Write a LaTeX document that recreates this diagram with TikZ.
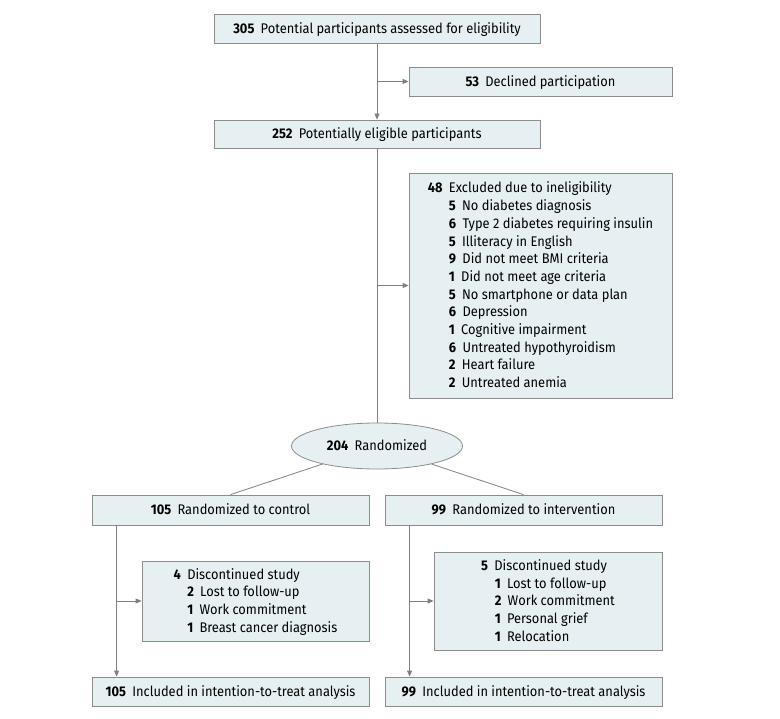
\documentclass[tikz,border=0pt]{standalone}
\usepackage{fontspec}
\setmainfont[FakeStretch=0.92]{Fira Sans}
\usetikzlibrary{arrows.meta,shapes.geometric,calc}
\definecolor{boxfill}{RGB}{230,240,242}
\definecolor{boxline}{RGB}{140,140,140}
\definecolor{conn}{RGB}{128,128,128}
\newcommand{\nm}[1]{\textbf{#1}\hspace{0.45em}}
\newcommand{\ind}{\hphantom{\textbf{48}}\hspace{0.45em}}
\newcommand{\indone}{\hphantom{\textbf{4}}\hspace{0.45em}}
\newcommand{\topstrut}{\rule{0pt}{13.6pt}}
\newcommand{\botstrut}{\rule[-4pt]{0pt}{4pt}}
\begin{document}
\begin{tikzpicture}[x=1pt,y=-1pt,
  font=\fontsize{14}{17.7}\selectfont,
  box/.style={draw=boxline,fill=boxfill,line width=0.8pt,inner sep=0pt,anchor=center},
  single/.style={box,text height=9.6pt,text depth=0pt},
  multi/.style={box,align=left},
  conline/.style={draw=conn,line width=0.8pt},
  arr/.style={conline,-{Triangle[length=6pt,width=5pt]}}]
\useasboundingbox (0,0) rectangle (780,719);
\node[single,minimum width=326,minimum height=29] (b1) at (377,29) {\nm{305}Potential participants assessed for eligibility};
\node[single,minimum width=263,minimum height=29] (dec) at (540.5,81.5) {\nm{53}Declined participation};
\node[single,minimum width=326,minimum height=28] (b2) at (377,134) {\nm{252}Potentially eligible participants};
\node[multi,minimum width=263,minimum height=225] (exc) at (540.5,285.5) {\topstrut\nm{48}Excluded due to ineligibility\\
\ind\nm{5}No diabetes diagnosis\\
\ind\nm{6}Type 2 diabetes requiring insulin\\
\ind\nm{5}Illiteracy in English\\
\ind\nm{9}Did not meet BMI criteria\\
\ind\nm{1}Did not meet age criteria\\
\ind\nm{5}No smartphone or data plan\\
\ind\nm{6}Depression\\
\ind\nm{1}Cognitive impairment\\
\ind\nm{6}Untreated hypothyroidism\\
\ind\nm{2}Heart failure\\
\ind\nm{2}Untreated anemia\botstrut};
\node[single,ellipse,minimum width=171,minimum height=46] (ell) at (377,446) {\nm{204}Randomized};
\node[single,minimum width=277,minimum height=30] (ctrl) at (230.5,510) {\nm{105}Randomized to control};
\node[single,minimum width=277,minimum height=30] (intv) at (523.5,510) {\nm{99}Randomized to intervention};
\node[multi,minimum width=227,minimum height=80] (dl) at (255.5,601) {\topstrut\nm{4}Discontinued study\\
\indone\nm{2}Lost to follow-up\\
\indone\nm{1}Work commitment\\
\indone\nm{1}Breast cancer diagnosis\botstrut};
\node[multi,minimum width=228,minimum height=98] (dr) at (548,601) {\topstrut\nm{5}Discontinued study\\
\indone\nm{1}Lost to follow-up\\
\indone\nm{2}Work commitment\\
\indone\nm{1}Personal grief\\
\indone\nm{1}Relocation\botstrut};
\node[single,minimum width=277,minimum height=29] (il) at (230.5,691.5) {\nm{105}Included in intention-to-treat analysis};
\node[single,minimum width=277,minimum height=29] (ir) at (523.5,691.5) {\nm{99}Included in intention-to-treat analysis};
% connectors
\draw[arr] (b1.south) -- (b2.north);
\draw[arr] (b1.south |- dec.west) -- (dec.west);
\draw[conline] (b2.south) -- (ell.north);
\draw[arr] (b2.south |- exc.west) -- (exc.west);
\draw[conline] (ctrl.north) -- (ell);
\draw[conline] (intv.north) -- (ell);
\path (ctrl.south west) ++(25,0) coordinate (lt);
\path (intv.south west) ++(25,0) coordinate (rt);
\draw[arr] (lt) -- (lt |- il.north);
\draw[arr] (lt |- dl.west) -- (dl.west);
\draw[arr] (rt) -- (rt |- ir.north);
\draw[arr] (rt |- dr.west) -- (dr.west);
\end{tikzpicture}
\end{document}
